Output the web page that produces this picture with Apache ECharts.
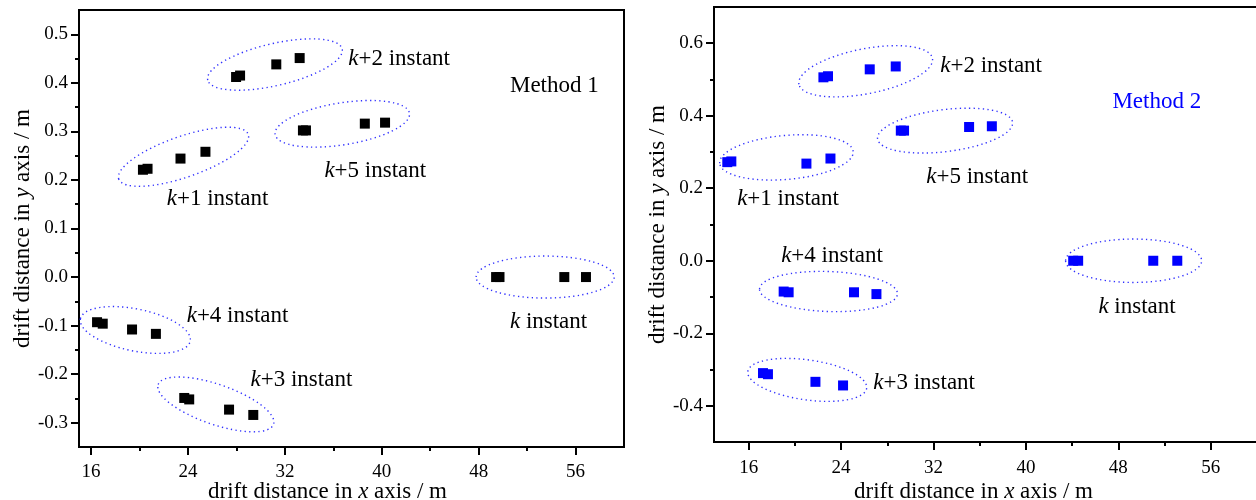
<!DOCTYPE html>
<html><head><meta charset="utf-8">
<script src="https://cdn.jsdelivr.net/npm/echarts@6/dist/echarts.min.js"></script>
<style>html,body{margin:0;padding:0;background:#fff}#c{width:1256px;height:500px}</style>
</head><body><div id="c"></div>
<script>
// ---------------- DATA ----------------
// Method 1 : drift positions [x (m), y (m)] at each instant
const m1_k  = [[49.44, 0.000], [49.72, 0.000], [55.07, 0.000], [56.86, 0.000]];
const m1_k1 = [[20.28, 0.221], [20.66, 0.223], [23.38, 0.244], [25.44, 0.258]];
const m1_k2 = [[27.97, 0.412], [28.30, 0.415], [31.29, 0.438], [33.22, 0.451]];
const m1_k3 = [[23.69, -0.249], [24.10, -0.252], [27.39, -0.273], [29.39, -0.284]];
const m1_k4 = [[16.49, -0.093], [16.96, -0.096], [19.38, -0.108], [21.35, -0.117]];
const m1_k5 = [[33.49, 0.302], [33.74, 0.302], [38.60, 0.316], [40.27, 0.318]];
// Method 2
const m2_k  = [[44.09, 0.000], [44.52, 0.000], [51.02, 0.000], [53.10, 0.000]];
const m2_k1 = [[14.15, 0.272], [14.50, 0.274], [21.00, 0.268], [23.08, 0.282]];
const m2_k2 = [[22.47, 0.506], [22.87, 0.509], [26.48, 0.528], [28.73, 0.536]];
const m2_k3 = [[17.24, -0.310], [17.67, -0.313], [21.78, -0.334], [24.17, -0.344]];
const m2_k4 = [[19.03, -0.085], [19.46, -0.087], [25.12, -0.087], [27.06, -0.092]];
const m2_k5 = [[29.17, 0.359], [29.45, 0.359], [35.08, 0.369], [37.05, 0.371]];

// axis ticks
const xMajor = [16, 24, 32, 40, 48, 56];
const xMinor = [20, 28, 36, 44, 52];
const y1Major = [-0.3, -0.2, -0.1, 0, 0.1, 0.2, 0.3, 0.4, 0.5];
const y1Minor = [-0.25, -0.15, -0.05, 0.05, 0.15, 0.25, 0.35, 0.45];
const y2Major = [-0.4, -0.2, 0, 0.2, 0.4, 0.6];
const y2Minor = [-0.3, -0.1, 0.1, 0.3, 0.5];

// annotation texts and their anchor values (left edge, middle)
const labels1 = ['{i|k}+2 instant', 'Method 1', '{i|k}+5 instant', '{i|k}+1 instant', '{i|k}+4 instant', '{i|k} instant', '{i|k}+3 instant'];
const labelAt1 = [[37.19, 0.450], [50.54, 0.394], [35.22, 0.2195], [22.20, 0.160], [23.85, -0.081], [50.54, -0.093], [29.12, -0.2126]];
const labels2 = ['{i|k}+2 instant', 'Method 2', '{i|k}+5 instant', '{i|k}+1 instant', '{i|k}+4 instant', '{i|k} instant', '{i|k}+3 instant'];
const labelAt2 = [[32.54, 0.536], [47.44, 0.439], [31.33, 0.232], [14.96, 0.171], [18.77, 0.0138], [46.23, -0.127], [26.74, -0.337]];

// group ellipse centres (value space)
const ell1 = [[31.18, 0.4377], [23.63, 0.2477], [36.74, 0.3156], [53.49, 0.000], [19.65, -0.109], [26.30, -0.2623]];
const ell2 = [[26.13, 0.5227], [19.27, 0.2851], [33.00, 0.359], [49.32, 0.000], [22.91, -0.0848], [21.07, -0.3287]];

// ---------------- STYLE ----------------
// ellipse shapes: [rx px, ry px, rotation deg]
const ellShape1 = [[69, 21, 13], [68.5, 20.5, 19], [68, 21, 9], [69, 21, 0], [56, 21, -11.5], [61, 20, -19]];
const ellShape2 = [[68, 22.5, 11], [67, 22, 5], [68, 21, 7], [68, 21.7, 0], [69, 20, -2], [60, 20, -8]];

const FF = '"Liberation Serif", "Times New Roman", serif';
const BLUE = '#0000ff';
const ELL = '#3030ff';
const TICK_FS = 19, TITLE_FS = 23, ANN_FS = 23;

function xAxes(gi, min, max, margin, nameGap, pad) {
  return [{
    type: 'value', gridIndex: gi, min: min, max: max, position: 'bottom',
    axisLine: { onZero: false, lineStyle: { color: '#000', width: 2 } },
    axisTick: { show: true, length: 8, customValues: xMajor, lineStyle: { color: '#000', width: 2 } },
    axisLabel: { customValues: xMajor, formatter: v => String(v), margin: margin, color: '#000', fontSize: TICK_FS, fontFamily: FF },
    splitLine: { show: false },
    name: 'drift distance in {i|x} axis / m', nameLocation: 'middle', nameGap: nameGap, nameMoveOverlap: false,
    nameTextStyle: { color: '#000', fontSize: TITLE_FS, fontFamily: FF, padding: [0, pad, 0, 0],
      rich: { i: { fontStyle: 'italic', fontSize: TITLE_FS, fontFamily: FF, color: '#000' } } }
  }, {
    type: 'value', gridIndex: gi, min: min, max: max, position: 'bottom',
    axisLine: { show: false, onZero: false },
    axisTick: { show: true, length: 4, customValues: xMinor, lineStyle: { color: '#000', width: 2 } },
    axisLabel: { show: false }, splitLine: { show: false }
  }];
}
function yAxes(gi, min, max, major, minor, nameGap) {
  return [{
    type: 'value', gridIndex: gi, min: min, max: max, position: 'left',
    axisLine: { onZero: false, lineStyle: { color: '#000', width: 2 } },
    axisTick: { show: true, length: 8, customValues: major, lineStyle: { color: '#000', width: 2 } },
    axisLabel: { customValues: major, formatter: v => v.toFixed(1), margin: 11, color: '#000', fontSize: TICK_FS, fontFamily: FF },
    splitLine: { show: false },
    name: 'drift distance in {i|y} axis / m', nameLocation: 'middle', nameGap: nameGap,
    nameTextStyle: { color: '#000', fontSize: TITLE_FS, fontFamily: FF,
      rich: { i: { fontStyle: 'italic', fontSize: TITLE_FS, fontFamily: FF, color: '#000' } } }
  }, {
    type: 'value', gridIndex: gi, min: min, max: max, position: 'left',
    axisLine: { show: false, onZero: false },
    axisTick: { show: true, length: 4, customValues: minor, lineStyle: { color: '#000', width: 2 } },
    axisLabel: { show: false }, splitLine: { show: false }
  }];
}

function pts(xi, yi, data, color) {
  return { type: 'scatter', xAxisIndex: xi, yAxisIndex: yi, data: data, symbol: 'rect', symbolSize: 10,
    itemStyle: { color: color, opacity: 1 }, z: 4, silent: true };
}
function ellipses(xi, yi, centers, shapes) {
  return { type: 'custom', xAxisIndex: xi, yAxisIndex: yi, data: centers, silent: true, z: 2,
    renderItem: (params, api) => {
      const p = api.coord([api.value(0), api.value(1)]);
      const s = shapes[params.dataIndex];
      return { type: 'ellipse', x: p[0], y: p[1], rotation: s[2] * Math.PI / 180,
        shape: { cx: 0, cy: 0, rx: s[0], ry: s[1] },
        style: { fill: 'none', stroke: ELL, lineWidth: 1.4, lineDash: [1.3, 3.3] } };
    } };
}
function texts(xi, yi, at, txt, methodColor) {
  return { type: 'scatter', xAxisIndex: xi, yAxisIndex: yi, silent: true, z: 5,
    symbolSize: 1, itemStyle: { color: 'rgba(0,0,0,0)', opacity: 1 },
    data: at.map((p, i) => {
      const c = txt[i].indexOf('Method') === 0 ? methodColor : '#000';
      return { value: p, name: txt[i], label: { color: c, rich: { i: { fontStyle: 'italic', fontSize: ANN_FS, fontFamily: FF, color: c } } } };
    }),
    label: { show: true, position: 'right', distance: 0, opacity: 1, formatter: p => p.name, fontSize: ANN_FS, fontFamily: FF, color: '#000',
      rich: { i: { fontStyle: 'italic', fontSize: ANN_FS, fontFamily: FF, color: '#000' } } } };
}

const chart = echarts.init(document.getElementById('c'), null, { renderer: 'canvas' });
chart.setOption({
  animation: false,
  backgroundColor: '#fff',
  grid: [
    { left: 79, top: 10, width: 545, height: 437, outerBoundsMode: 'none', containLabel: false, show: true, borderColor: '#000', borderWidth: 2, backgroundColor: 'transparent' },
    { left: 714, top: 7, width: 543, height: 435, outerBoundsMode: 'none', containLabel: false, show: true, borderColor: '#000', borderWidth: 2, backgroundColor: 'transparent' }
  ],
  xAxis: [].concat(xAxes(0, 15, 60, 16, 33, 48), xAxes(1, 13, 60, 17, 38, 24)),
  yAxis: [].concat(yAxes(0, -0.35, 0.55, y1Major, y1Minor, 45), yAxes(1, -0.5, 0.7, y2Major, y2Minor, 42)),
  series: [
    ellipses(0, 0, ell1, ellShape1),
    pts(0, 0, m1_k, '#000'), pts(0, 0, m1_k1, '#000'), pts(0, 0, m1_k2, '#000'),
    pts(0, 0, m1_k3, '#000'), pts(0, 0, m1_k4, '#000'), pts(0, 0, m1_k5, '#000'),
    texts(0, 0, labelAt1, labels1, '#000'),
    ellipses(2, 2, ell2, ellShape2),
    pts(2, 2, m2_k, BLUE), pts(2, 2, m2_k1, BLUE), pts(2, 2, m2_k2, BLUE),
    pts(2, 2, m2_k3, BLUE), pts(2, 2, m2_k4, BLUE), pts(2, 2, m2_k5, BLUE),
    texts(2, 2, labelAt2, labels2, BLUE)
  ]
});
</script></body></html>
